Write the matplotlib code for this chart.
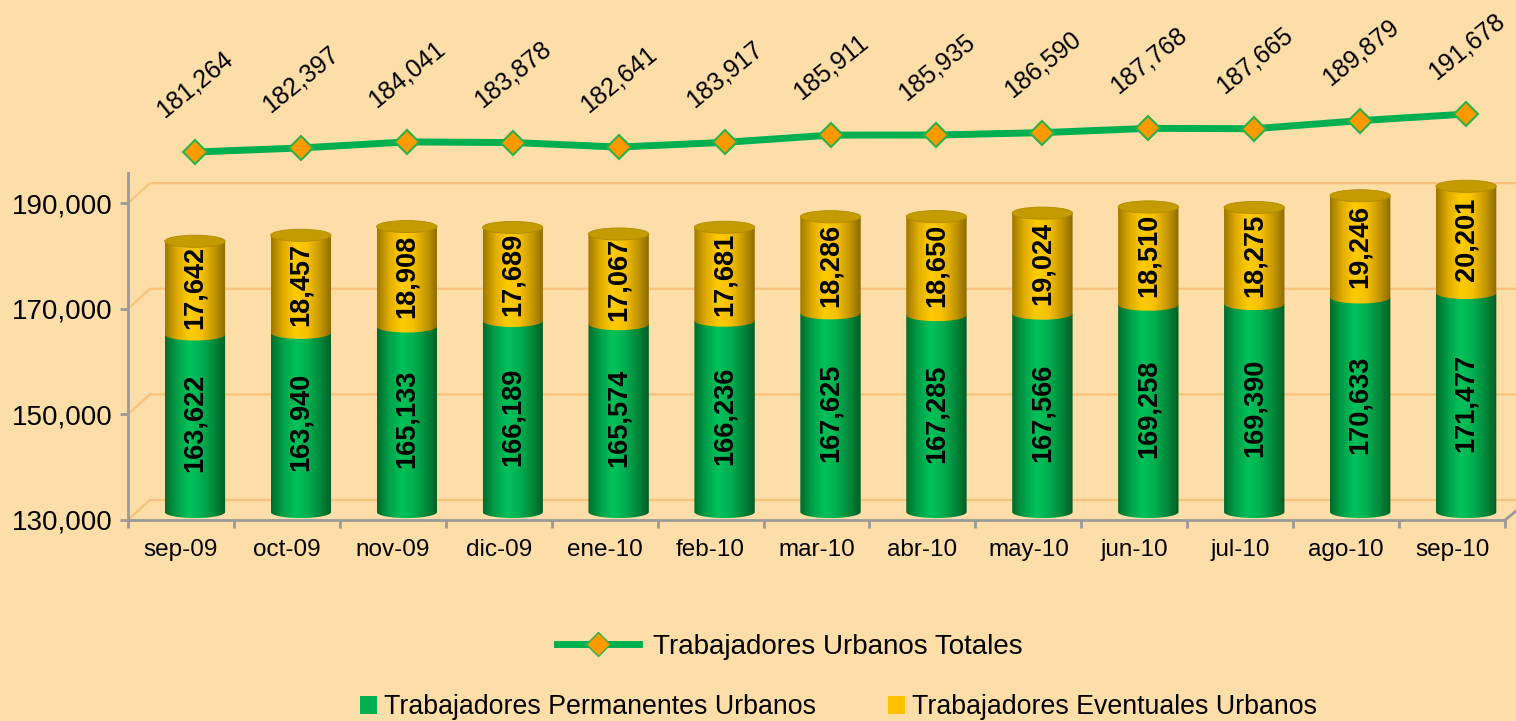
import numpy as np
import matplotlib
matplotlib.use('Agg')
import matplotlib.pyplot as plt
from matplotlib.path import Path
from matplotlib.patches import Ellipse, Patch
from matplotlib.lines import Line2D
from matplotlib.transforms import ScaledTranslation
from matplotlib.colors import LinearSegmentedColormap

plt.rcParams['font.family'] = ['Liberation Sans', 'DejaVu Sans']

# data
months = ['sep-09', 'oct-09', 'nov-09', 'dic-09', 'ene-10', 'feb-10', 'mar-10',
          'abr-10', 'may-10', 'jun-10', 'jul-10', 'ago-10', 'sep-10']
permanentes = [163622, 163940, 165133, 166189, 165574, 166236, 167625,
               167285, 167566, 169258, 169390, 170633, 171477]
eventuales = [17642, 18457, 18908, 17689, 17067, 17681, 18286,
              18650, 19024, 18510, 18275, 19246, 20201]
totales = [181264, 182397, 184041, 183878, 182641, 183917, 185911,
           185935, 186590, 187768, 187665, 189879, 191678]
yticks = [130000, 150000, 170000, 190000]

BG = '#FDDEA8'
GREEN = '#00B050'
ORANGE = '#FF9900'
GRID = '#F9C27A'
AXIS = '#9A9A9A'

fig = plt.figure(figsize=(15.16, 7.21), dpi=100, facecolor=BG)
ax = fig.add_axes([0.0844, 0.2788, 0.9084, 0.4812])              # bar axes
ax.set_facecolor('none')
ax.set_xlim(-0.5, 12.5)
ax.set_ylim(130000, 195700)

# 3d back-wall gridlines
dx_ax = 22 / 1377.0
dy_dat = 20 / 5.283 * 1000
ytr = ax.get_yaxis_transform()
for v in yticks:
    ax.plot([0, dx_ax, 1.008], [v, v + dy_dat, v + dy_dat], color=GRID, lw=1.6,
            transform=ytr, clip_on=False, zorder=1)
ax.plot([1.0, 1.008], [130000, 130000 + dy_dat * 0.45], color=AXIS, lw=2,
        transform=ytr, clip_on=False, zorder=1)

# cylinders
tr = ax.transData + ScaledTranslation(0.14, 0.08, fig.dpi_scale_trans)
w = 0.57
eh = 2300
t = np.linspace(np.pi, 2 * np.pi, 40)

green_cm = LinearSegmentedColormap.from_list(
    'g', ['#006B2A', '#00A048', '#00C25A', '#00B050', '#008A3C', '#005E25'])
yell_cm = LinearSegmentedColormap.from_list(
    'y', ['#9C7800', '#E0AC00', '#FFCC00', '#F5C000', '#C89A00', '#8C6A00'])
grad = np.linspace(0, 1, 256).reshape(1, -1)


def cylinder_part(xc, y0, y1, cmap):
    x0, x1 = xc - w / 2, xc + w / 2
    arc_x = xc + w / 2 * np.cos(t)
    arc_y = y0 + eh / 2 * np.sin(t)
    verts = list(zip(arc_x, arc_y)) + [(x1, y1), (x0, y1), (x0, y0)]
    codes = [Path.MOVETO] + [Path.LINETO] * (len(verts) - 2) + [Path.CLOSEPOLY]
    im = ax.imshow(grad, cmap=cmap, extent=[x0, x1, y0 - eh, y1], aspect='auto',
                   transform=tr, zorder=2, interpolation='bilinear')
    im.set_clip_path(Path(verts, codes), transform=tr)


for i in range(len(months)):
    top = permanentes[i] + eventuales[i]
    cylinder_part(i, 130000, permanentes[i], green_cm)
    cylinder_part(i, permanentes[i], top, yell_cm)
    ax.add_patch(Ellipse((i, top), w, eh, facecolor='#C49B00', edgecolor='#B08A00',
                         lw=0.6, transform=tr, zorder=3))
    ax.text(i, (130000 + permanentes[i]) / 2, f'{permanentes[i]:,}', rotation=90,
            ha='center', va='center', fontsize=19.5, fontweight='bold', transform=tr, zorder=4)
    ax.text(i, permanentes[i] + eventuales[i] / 2, f'{eventuales[i]:,}', rotation=90,
            ha='center', va='center', fontsize=19.5, fontweight='bold', transform=tr, zorder=4)

ax.set_xlim(-0.5, 12.5)
ax.set_ylim(130000, 195700)

# axes styling
for s in ['top', 'right']:
    ax.spines[s].set_visible(False)
for s in ['left', 'bottom']:
    ax.spines[s].set_color(AXIS)
    ax.spines[s].set_linewidth(2)
ax.set_yticks(yticks)
ax.set_yticklabels([f'{v:,}' for v in yticks])
ax.tick_params(axis='y', labelsize=20, length=6, width=2, color=AXIS, pad=5)
ax.set_xticks(range(len(months)))
ax.set_xticklabels(months)
ax.tick_params(axis='x', which='major', length=0, labelsize=17.5, pad=14)
ax.set_xticks(np.arange(-0.5, 13, 1), minor=True)
ax.tick_params(axis='x', which='minor', length=6, width=2, color=AXIS)

# total line on its own axes
lax = fig.add_axes([0.0844, 0.778, 0.9084, 0.0832])
lax.set_xlim(-0.5, 12.5)
lax.set_ylim(179072, 195515)
lax.axis('off')
ltr = lax.transData + ScaledTranslation(0.14, 0, fig.dpi_scale_trans)
xs = np.arange(len(months))
lax.plot(xs, totales, color=GREEN, lw=5, marker='D', markersize=12,
         markerfacecolor=ORANGE, markeredgecolor='#2DB04A', markeredgewidth=1.5,
         transform=ltr, clip_on=False)
for i, v in enumerate(totales):
    lax.annotate(f'{v:,}', (i, v), xycoords=ltr, xytext=(0, 49), textcoords='offset points',
                 ha='center', va='center', rotation=39, fontsize=18,
                 rotation_mode='anchor', annotation_clip=False)

# legends
h1 = [Line2D([0], [0], color=GREEN, lw=5, marker='D', markersize=12,
             markerfacecolor=ORANGE, markeredgecolor='#2DB04A')]
fig.legend(h1, ['Trabajadores Urbanos Totales'], loc='center',
           bbox_to_anchor=(0.521, 0.103), frameon=False, fontsize=20,
           handlelength=2.95, handletextpad=0.5)
h2 = [Patch(facecolor=GREEN), Patch(facecolor='#FFC000')]
fig.legend(h2, ['Trabajadores Permanentes Urbanos', 'Trabajadores Eventuales Urbanos'],
           loc='center', bbox_to_anchor=(0.553, 0.019), frameon=False, fontsize=19.3,
           ncol=2, handlelength=0.65, handleheight=0.65, handletextpad=0.25,
           columnspacing=2.7)

fig.savefig('out.png', dpi=100, facecolor=BG)
